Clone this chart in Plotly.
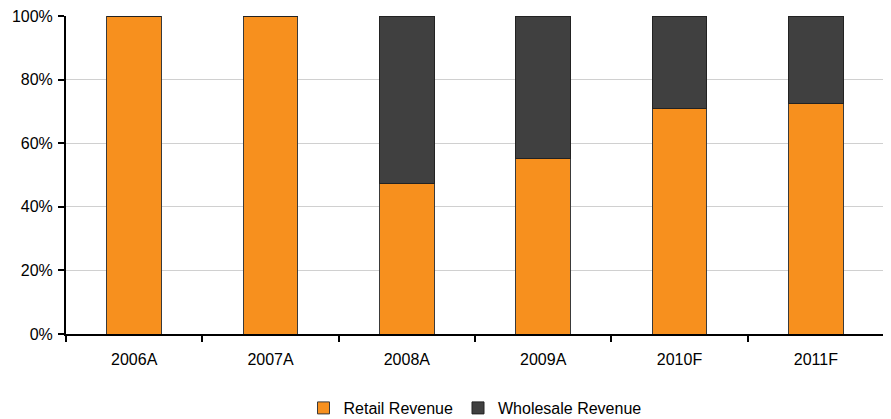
import plotly.graph_objects as go

years = ["2006A", "2007A", "2008A", "2009A", "2010F", "2011F"]
retail = [100, 100, 47.3, 55.2, 71.0, 72.5]
wholesale = [0, 0, 52.7, 44.8, 29.0, 27.5]

fig = go.Figure()
fig.add_bar(x=years, y=retail, name="Retail Revenue",
            marker=dict(color="#F7901E", line=dict(color="#3a3a3a", width=1)), width=0.4)
fig.add_bar(x=years, y=wholesale, name="Wholesale Revenue",
            marker=dict(color="#404040", line=dict(color="#222222", width=1)), width=0.4)

# page body has an 8px default margin, so the figure is sized/offset to compensate
fig.update_layout(
    barmode="stack",
    width=883, height=411,
    margin=dict(l=58, r=7, t=8, b=85, autoexpand=False),
    plot_bgcolor="white", paper_bgcolor="white",
    font=dict(family="Liberation Sans, Arial, sans-serif", size=16, color="#000"),
    showlegend=True,
    legend=dict(orientation="h", x=0.5, xanchor="center", y=-0.2327, yanchor="middle",
                font=dict(size=16), itemwidth=30, traceorder="normal"),
    bargap=0.6,
)
fig.update_xaxes(type="category", showline=True, linecolor="black", linewidth=2,
                 ticks="outside", tickson="boundaries", ticklen=6, tickwidth=2, tickcolor="black",
                 ticklabelstandoff=10, automargin=False, ticklabeloverflow="allow",
                 showgrid=False, zeroline=False)
fig.update_yaxes(range=[0, 100], dtick=20, ticksuffix="%", showline=True, linecolor="black", linewidth=2,
                 ticks="outside", ticklen=6, tickwidth=2, tickcolor="black", automargin=False,
                 ticklabelstandoff=2, ticklabeloverflow="allow",
                 showgrid=True, gridcolor="#d0d0d0", gridwidth=1, zeroline=False)

fig.write_html("out.html")
